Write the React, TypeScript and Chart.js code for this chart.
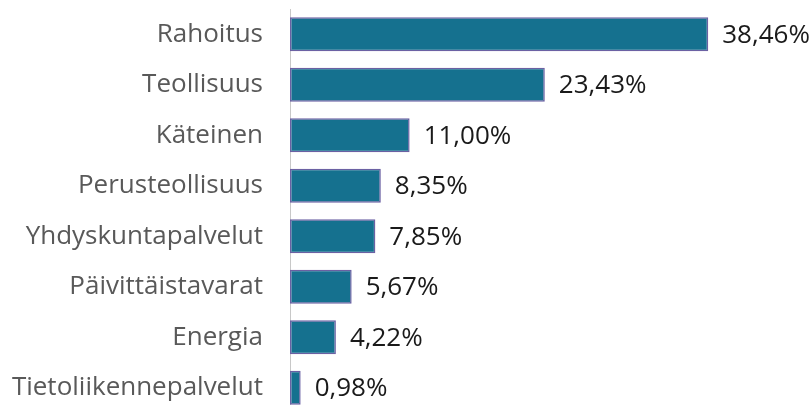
import React, { useEffect, useRef } from "react";
import { Chart, registerables } from "chart.js";

Chart.register(...registerables);

const categories = [
  "Rahoitus",
  "Teollisuus",
  "Käteinen",
  "Perusteollisuus",
  "Yhdyskuntapalvelut",
  "Päivittäistavarat",
  "Energia",
  "Tietoliikennepalvelut",
];
const values = [38.46, 23.43, 11.0, 8.35, 7.85, 5.67, 4.22, 0.98];

const FONT = "'Open Sans', sans-serif";

const valueLabels = {
  id: "valueLabels",
  afterDatasetsDraw(chart: any) {
    const ctx = chart.ctx;
    const meta = chart.getDatasetMeta(0);
    ctx.save();
    ctx.font = `26px ${FONT}`;
    ctx.fillStyle = "#1a1a1a";
    ctx.textAlign = "left";
    ctx.textBaseline = "middle";
    meta.data.forEach((bar: any, i: number) => {
      const v = values[i];
      const txt = v.toFixed(2).replace(".", ",") + "%";
      ctx.fillText(txt, bar.x + 14, bar.y + 1);
    });
    ctx.restore();
  },
};

export default function App() {
  const ref = useRef<HTMLCanvasElement | null>(null);
  useEffect(() => {
    if (!ref.current) return;
    const chart = new Chart(ref.current, {
      type: "bar",
      data: {
        labels: categories,
        datasets: [
          {
            data: values,
            backgroundColor: "#15718f",
            borderColor: "#6b61a3",
            borderWidth: 1.5,
            borderSkipped: false,
            barPercentage: 0.67,
            categoryPercentage: 1,
          },
        ],
      },
      options: {
        indexAxis: "y",
        animation: false,
        responsive: true,
        maintainAspectRatio: false,
        layout: { padding: { top: 9, bottom: 1, left: 0, right: 87 } },
        plugins: {
          legend: { display: false },
          tooltip: { enabled: false },
        },
        scales: {
          x: {
            display: false,
            min: 0,
            max: 40,
          },
          y: {
            afterFit(scale: any) {
              scale.width = 290;
              scale.paddingTop = 0;
              scale.paddingBottom = 0;
            },
            grid: { display: false },
            border: { display: true, color: "#c8c8c8", width: 1 },
            ticks: {
              padding: 19,
              color: "#595959",
              font: { family: FONT, size: 26 },
            },
          },
        },
      },
      plugins: [valueLabels],
    });
    return () => chart.destroy();
  }, []);
  return (
    <div style={{ position: "fixed", left: 0, top: 0, width: 812, height: 414 }}>
      <canvas ref={ref} />
    </div>
  );
}
